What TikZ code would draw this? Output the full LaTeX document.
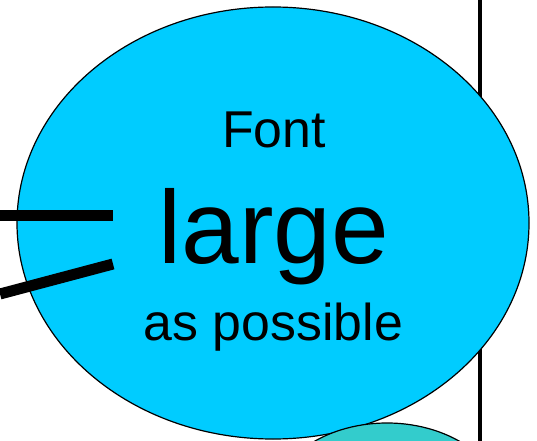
\documentclass[tikz,border=0pt]{standalone}
\usepackage{fontspec}
\setmainfont{Liberation Sans}
\usetikzlibrary{shapes.geometric}

\definecolor{bubblecyan}{HTML}{00CCFF}
\definecolor{bubbleteal}{HTML}{33CCCC}

\begin{document}
\begin{tikzpicture}[
    x=1bp, y=-1bp,
    bubble/.style={ellipse,draw,line width=1.2bp,inner sep=0pt},
    bar/.style={line width=11bp},
    word/.style={anchor=base,inner sep=0pt}
    ]
    \useasboundingbox (0,0) rectangle (537,441);
    \clip (0,0) rectangle (537,441);

    % divider:
    \coordinate (d1) at (480,0);
    \coordinate (d2) at (480,441);
    \draw [line width=4.5bp] (d1) -- (d2);

    % main bubble:
    \node (big) at (273,223) [bubble,fill=bubblecyan,minimum width=512bp,minimum height=432bp] {};

    % lower bubble:
    \node (small) at (387,513) [bubble,fill=bubbleteal,minimum width=240bp,minimum height=180bp] {};

    % text:
    \node (font) at (274,147.3) [word,font=\fontsize{52}{52}\selectfont] {Font};
    \node (large) at (274,263.3) [word,font=\fontsize{104}{104}\selectfont] {large};
    \node (possible) at (273.5,340) [word,font=\fontsize{52}{52}\selectfont] {as possible};

    % pointers:
    \coordinate (p1) at (0,216);
    \coordinate (q1) at (113,216);
    \coordinate (p2) at (0,294);
    \coordinate (q2) at (113,264);
    \draw [bar] (p1) -- (q1);
    \draw [bar] (p2) -- (q2);

  \end{tikzpicture}
\end{document}
